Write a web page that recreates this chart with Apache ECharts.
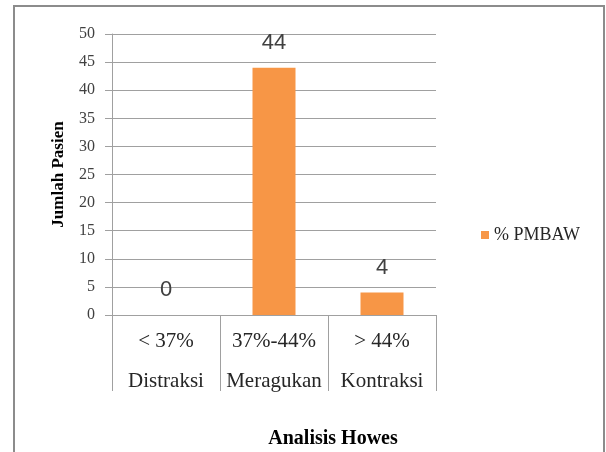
<!DOCTYPE html>
<html>
<head>
<meta charset="utf-8">
<script src="https://cdn.jsdelivr.net/npm/echarts@6/dist/echarts.min.js"></script>
<style>
  html, body { margin: 0; padding: 0; background: #ffffff; }
  #chart { width: 606px; height: 452px; }
</style>
</head>
<body>
<div id="chart"></div>
<script>
// Howes analysis: patient counts per %PMBAW range
const rangeLabels = ['< 37%', '37%-44%', '> 44%'];
const groupNames = ['Distraksi', 'Meragukan', 'Kontraksi'];
const patientCounts = [0, 44, 4];
const seriesName = '% PMBAW';
const yTicks = { min: 0, max: 50, step: 5 };

const categories = rangeLabels.map((r, i) => r + '\n' + groupNames[i]);

const serif = 'Liberation Serif';
const gridColor = '#a0a0a0';

const chart = echarts.init(document.getElementById('chart'), null, { renderer: 'canvas' });

chart.setOption({
  animation: false,
  backgroundColor: '#ffffff',
  textStyle: { fontFamily: serif },
  grid: { left: 112, top: 34, right: 170, bottom: 137, containLabel: false },
  legend: {
    data: [seriesName],
    left: 476,
    top: 221,
    icon: 'rect',
    itemWidth: 8,
    itemHeight: 8,
    itemGap: 5,
    textStyle: { fontFamily: serif, fontSize: 18, color: '#262626' }
  },
  xAxis: {
    type: 'category',
    data: categories,
    boundaryGap: true,
    axisLine: { show: true, lineStyle: { color: gridColor, width: 1 } },
    axisTick: { show: true, alignWithLabel: false, interval: 0, length: 76, lineStyle: { color: gridColor } },
    axisLabel: {
      interval: 0,
      margin: 6,
      fontFamily: serif,
      fontSize: 21,
      lineHeight: 40,
      color: '#262626'
    },
    splitLine: { show: false }
  },
  yAxis: {
    type: 'value',
    min: yTicks.min,
    max: yTicks.max,
    interval: yTicks.step,
    name: 'Jumlah Pasien',
    nameLocation: 'middle',
    nameGap: 45,
    nameTextStyle: { fontFamily: serif, fontSize: 17, fontWeight: 'bold', color: '#000000' },
    axisLine: { show: true, lineStyle: { color: gridColor, width: 1 } },
    axisTick: { show: true, inside: false, length: 7, lineStyle: { color: gridColor } },
    axisLabel: { margin: 17, fontFamily: serif, fontSize: 16, color: '#404040' },
    splitLine: { show: true, lineStyle: { color: gridColor, width: 1 } }
  },
  series: [{
    name: seriesName,
    type: 'bar',
    data: patientCounts,
    barWidth: 43,
    itemStyle: { color: '#F79646' },
    label: {
      show: true,
      position: 'top',
      distance: 14,
      fontFamily: 'Liberation Sans',
      fontSize: 22,
      color: '#404040'
    }
  }],
  graphic: [
    {
      type: 'rect',
      shape: { x: 14, y: 6, width: 590, height: 470 },
      style: { fill: 'none', stroke: '#8c8c8c', lineWidth: 2 },
      silent: true
    },
    {
      type: 'text',
      x: 333,
      y: 439,
      style: {
        text: 'Analisis Howes',
        fontFamily: serif,
        fontSize: 20,
        fontWeight: 'bold',
        fill: '#000000',
        align: 'center',
        verticalAlign: 'middle'
      }
    }
  ]
});
</script>
</body>
</html>
